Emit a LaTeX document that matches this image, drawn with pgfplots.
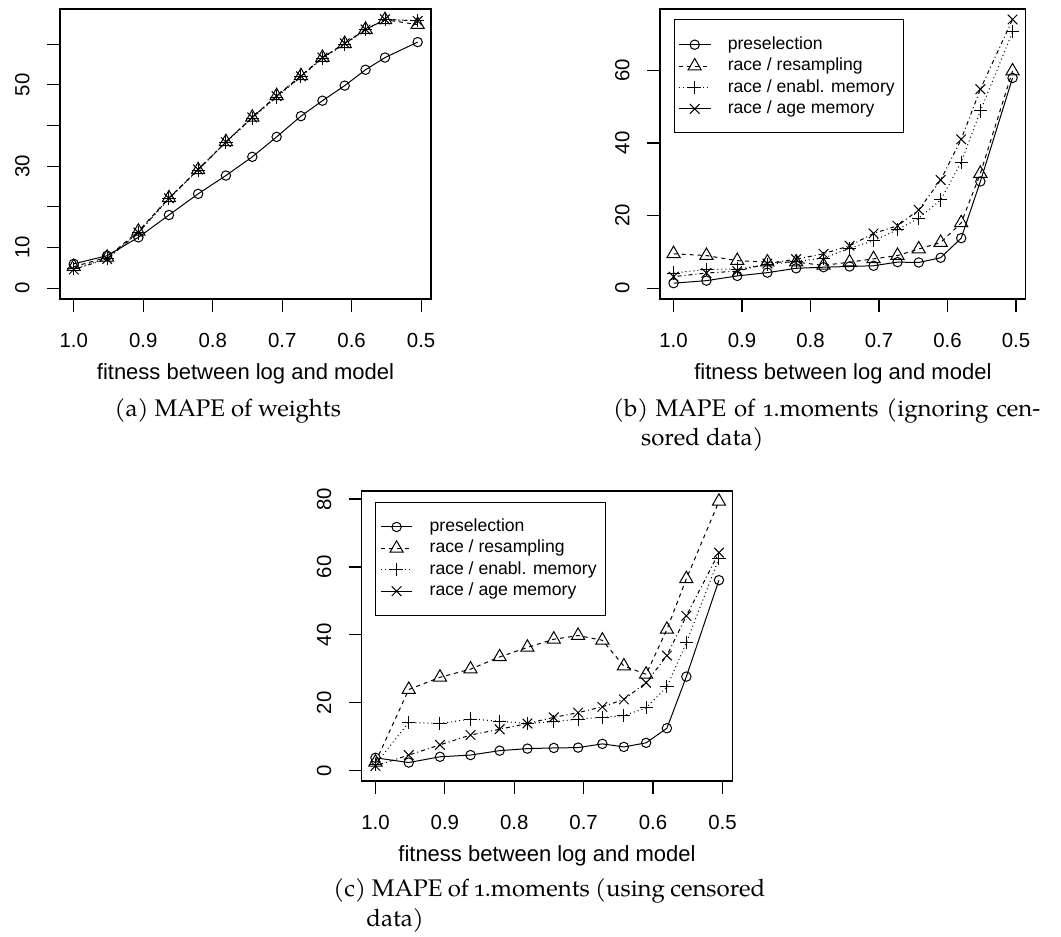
\documentclass[border=0pt]{standalone}
\usepackage{fontspec}
\setmainfont{Liberation Sans}
\newfontfamily\capfont{TeX Gyre Pagella}[Numbers=OldStyle]
\usepackage{pgfplots}
\usepackage{pgfplotstable}
\pgfplotsset{compat=1.18}

\pgfplotstableread{
x     pre  res  ena  age
1.000 6.0  5.3  4.8  4.6
0.952 8.0  7.6  7.3  7.2
0.907 12.5 14.0 13.6 13.7
0.863 18.0 22.2 22.0 22.1
0.821 23.2 29.1 29.0 29.2
0.781 27.7 36.0 35.9 35.9
0.743 32.3 42.0 41.8 42.0
0.708 37.2 47.3 47.0 47.2
0.673 42.3 52.2 52.0 52.1
0.642 46.1 56.7 56.5 56.7
0.610 49.8 60.1 60.0 60.2
0.580 53.7 63.6 63.5 63.6
0.552 56.7 66.0 66.0 66.1
0.505 60.5 64.8 65.8 65.7
}\tabA

\pgfplotstableread{
x     pre  res  ena  age
1.000 1.4  9.5  4.2  3.2
0.952 2.1  9.0  5.2  4.2
0.907 3.4  7.6  5.3  4.7
0.863 4.3  7.2  6.5  6.8
0.821 5.5  7.2  7.4  8.0
0.781 5.8  6.3  8.3  9.5
0.743 6.0  7.2  11.0 11.7
0.708 6.2  8.1  13.1 15.1
0.673 7.2  9.0  16.1 17.2
0.642 7.1  10.8 19.3 21.6
0.610 8.4  12.6 24.3 29.8
0.580 13.8 18.0 34.7 41.0
0.552 29.4 31.6 48.8 54.8
0.505 57.9 59.8 70.6 74.0
}\tabB

\pgfplotstableread{
x     pre  res  ena  age
1.000 3.8  2.5  1.9  1.4
0.952 2.4  23.9 14.2 4.6
0.907 4.1  27.5 13.9 7.6
0.863 4.6  29.9 15.2 10.5
0.821 5.9  33.5 14.6 12.2
0.781 6.5  36.3 13.9 13.9
0.743 6.7  38.7 14.4 15.7
0.708 6.8  39.8 15.2 17.1
0.673 7.9  38.4 15.7 18.8
0.642 7.0  30.8 16.2 21.0
0.610 8.2  28.4 18.5 25.9
0.580 12.5 41.6 24.7 33.9
0.552 27.7 56.5 37.7 45.6
0.505 56.1 79.3 62.5 64.2
}\tabC

% legend entry helpers: gap after the sample line, row height, end padding
\newcommand\lgentA[1]{\hspace*{8.35pt}\rule{0pt}{5.3pt}#1\hspace*{2.3pt}}
\newcommand\lgent[1]{\hspace*{8.35pt}\rule{0pt}{9.38pt}#1\hspace*{2.3pt}}

\pgfplotsset{
  pre/.style={black, line width=0.5pt, solid, mark=o, mark size=2.35pt},
  res/.style={black, line width=0.5pt, dash pattern=on 2pt off 2pt, mark=triangle, mark size=3.8pt, mark options={solid}},
  ena/.style={black, line width=0.5pt, dash pattern=on 0.5pt off 1.5pt, mark=+, mark size=3.3pt, mark options={solid}},
  age/.style={black, line width=0.5pt, dash pattern=on 0.5pt off 1.5pt on 2pt off 1.5pt, mark=x, mark size=3.4pt, mark options={solid}},
  rstyle/.style={
    scale only axis, height=145pt,
    x dir=reverse, xmin=0.4858, xmax=1.0198,
    xtick={0.5,0.6,0.7,0.8,0.9,1.0},
    xticklabels={0.5,0.6,0.7,0.8,0.9,1.0},
    axis line style={line width=0.6pt},
    tick style={line width=0.6pt, black},
    tick align=outside, major tick length=6.4pt,
    tick pos=left,
    /pgf/number format/assume math mode=true,
    xticklabel style={font=\fontsize{10.2}{12}\selectfont, anchor=base},
    yticklabel style={font=\fontsize{10.2}{12}\selectfont, rotate=90, anchor=base},
    xticklabel shift=18.1pt, yticklabel shift=8.85pt,
    xlabel={fitness between log and model},
    xlabel style={font=\fontsize{11}{13}\selectfont, at={(axis description cs:0.5,0)}, anchor=base, yshift=-40.5pt},
    clip=false,
    legend image code/.code={\draw[mark repeat=2, mark phase=2, ##1] plot coordinates {(0pt,2.3pt) (7.925pt,2.3pt) (15.85pt,2.3pt)};},
  },
  rlegend/.style={
    legend style={at={(axis cs:1.0,#1)}, anchor=north west, draw=black, line width=0.5pt, fill=white,
      font=\fontsize{8.8}{10}\selectfont, inner xsep=2.15pt, inner ysep=8.3pt, row sep=0pt, column sep=0pt,
      nodes={inner sep=0pt, text depth=1.32pt}, cells={anchor=base west}},
  },
}

\begin{document}
\begin{tikzpicture}
\useasboundingbox (0,0) rectangle (530.5pt,468.5pt);

% (a)
\begin{axis}[rstyle, at={(30pt,319pt)}, anchor=south west, width=185.5pt,
  ymin=-2.64, ymax=68.64, ytick={0,10,20,30,40,50,60}, yticklabels={0,10,,30,,50,}]
\addplot[pre] table[x=x,y=pre] {\tabA};
\addplot[res] table[x=x,y=res] {\tabA};
\addplot[ena] table[x=x,y=ena] {\tabA};
\addplot[age] table[x=x,y=age] {\tabA};
\end{axis}

% (b)
\begin{axis}[rstyle, rlegend=74, at={(330pt,319pt)}, anchor=south west, width=182.85pt,
  ymin=-2.95, ymax=76.88, ytick={0,20,40,60}, yticklabels={0,20,40,60}]
\addplot[pre, forget plot] table[x=x,y=pre] {\tabB};
\addplot[res, forget plot] table[x=x,y=res] {\tabB};
\addplot[ena, forget plot] table[x=x,y=ena] {\tabB};
\addplot[age, forget plot] table[x=x,y=age] {\tabB};
\addlegendimage{pre}\addlegendentry{\lgentA{preselection}}
\addlegendimage{res}\addlegendentry{\lgent{race / resampling}}
\addlegendimage{ena}\addlegendentry{\lgent{race / enabl. memory}}
\addlegendimage{age, solid}\addlegendentry{\lgent{race / age memory}}
\end{axis}

% (c)
\begin{axis}[rstyle, rlegend=79.2, at={(180.85pt,78pt)}, anchor=south west, width=185.3pt,
  ymin=-3.03, ymax=82.36, ytick={0,20,40,60,80}, yticklabels={0,20,40,60,80}]
\addplot[pre, forget plot] table[x=x,y=pre] {\tabC};
\addplot[res, forget plot] table[x=x,y=res] {\tabC};
\addplot[ena, forget plot] table[x=x,y=ena] {\tabC};
\addplot[age, forget plot] table[x=x,y=age] {\tabC};
\addlegendimage{pre}\addlegendentry{\lgentA{preselection}}
\addlegendimage{res}\addlegendentry{\lgent{race / resampling}}
\addlegendimage{ena}\addlegendentry{\lgent{race / enabl. memory}}
\addlegendimage{age, solid}\addlegendentry{\lgent{race / age memory}}
\end{axis}

% captions
\begin{scope}[every node/.style={inner sep=0pt, font=\capfont\fontsize{12}{14.5}\selectfont}]
\node[anchor=base] at (113.9pt,260.2pt) {(a) MAPE of weights};
\node[anchor=base west] at (306.35pt,260.2pt) {\makebox[213.65pt][s]{(b)\hspace{3.7pt}MAPE of 1.moments (ignoring cen-}};
\node[anchor=base west] at (320.35pt,245.7pt) {sored data)};
\node[anchor=base west] at (166.5pt,20.15pt) {\makebox[216pt][s]{(c)\hspace{3pt}MAPE of 1.moments (using censored}};
\node[anchor=base west] at (183pt,5.15pt) {data)};
\end{scope}
\end{tikzpicture}
\end{document}
